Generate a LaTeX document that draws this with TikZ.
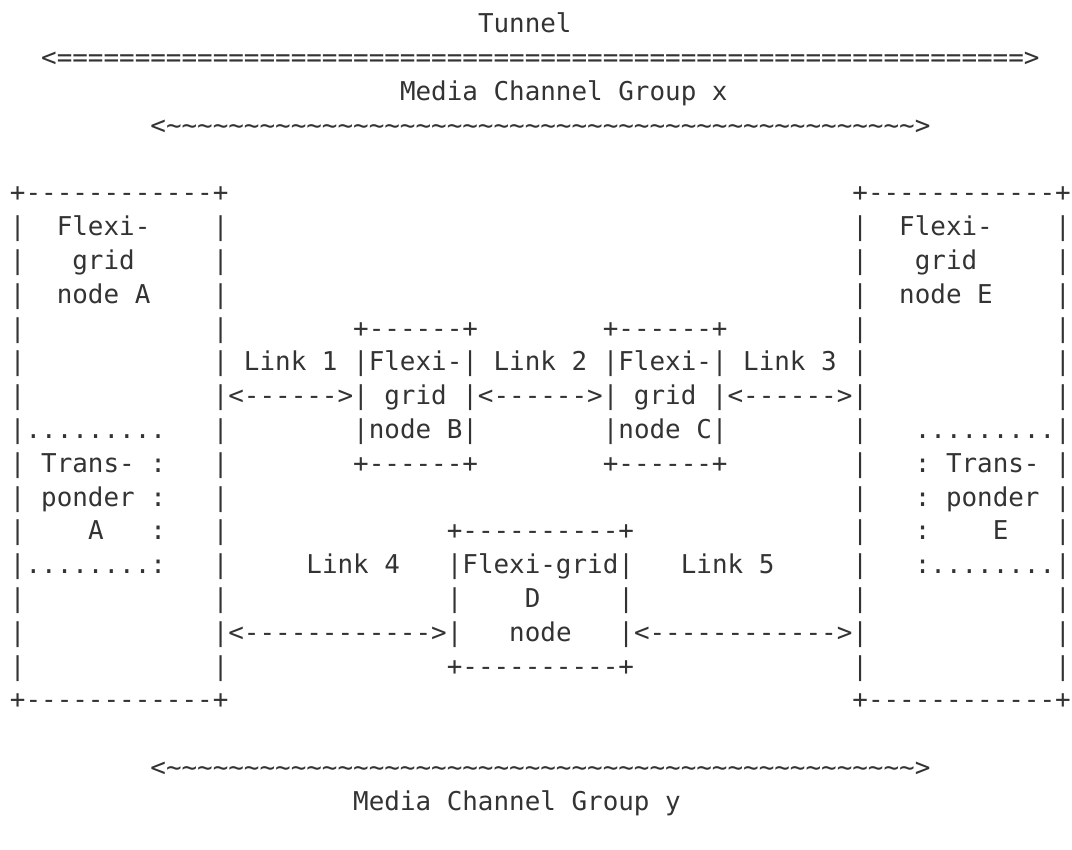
\documentclass[tikz,border=0pt]{standalone}
\usepackage{fontspec}
\setmonofont{DejaVu Sans Mono}
\definecolor{ink}{HTML}{333333}
\ExplSyntaxOn
\cs_new:Npn \asciirep #1#2 { \prg_replicate:nn {#1} {#2} }
\ExplSyntaxOff
\newcommand\asciiseg[4]{\node[txt] (#1) at (#2,#3) {#4};}
\newcommand\tld{\textasciitilde}
\begin{document}
\begin{tikzpicture}[x=11.7pt,y=-25.35pt,
  txt/.style={anchor=base west, inner sep=0pt, outer sep=0pt,
    font=\ttfamily\fontsize{19.434pt}{19.434pt}\selectfont, text=ink}]
\path[use as bounding box] (-0.641,-0.976) rectangle (68.077,24.172);
% header
\asciiseg{tunnel}{30}{0}{Tunnel}
\asciiseg{tunarrow}{2}{1}{<\asciirep{62}{=}>}
\asciiseg{mcgx}{25}{2}{Media Channel Group x}
\asciiseg{mcgxarrow}{9}{3}{<\asciirep{48}{\tld}>}
% row 5
\asciiseg{atop}{0}{5}{+\asciirep{12}{-}+}
\asciiseg{etop}{54}{5}{+\asciirep{12}{-}+}
% row 6
\asciiseg{a6l}{0}{6}{|}\asciiseg{a6t}{3}{6}{Flexi-}\asciiseg{a6r}{13}{6}{|}
\asciiseg{e6l}{54}{6}{|}\asciiseg{e6t}{57}{6}{Flexi-}\asciiseg{e6r}{67}{6}{|}
% row 7
\asciiseg{a7l}{0}{7}{|}\asciiseg{a7t}{4}{7}{grid}\asciiseg{a7r}{13}{7}{|}
\asciiseg{e7l}{54}{7}{|}\asciiseg{e7t}{58}{7}{grid}\asciiseg{e7r}{67}{7}{|}
% row 8
\asciiseg{a8l}{0}{8}{|}\asciiseg{a8t}{3}{8}{node A}\asciiseg{a8r}{13}{8}{|}
\asciiseg{e8l}{54}{8}{|}\asciiseg{e8t}{57}{8}{node E}\asciiseg{e8r}{67}{8}{|}
% row 9
\asciiseg{a9l}{0}{9}{|}\asciiseg{a9r}{13}{9}{|}
\asciiseg{btop}{22}{9}{+\asciirep{6}{-}+}
\asciiseg{ctop}{38}{9}{+\asciirep{6}{-}+}
\asciiseg{e9l}{54}{9}{|}\asciiseg{e9r}{67}{9}{|}
% row 10
\asciiseg{a10l}{0}{10}{|}
\asciiseg{links}{13}{10}{| Link 1 |Flexi-| Link 2 |Flexi-| Link 3 |}
\asciiseg{e10r}{67}{10}{|}
% row 11
\asciiseg{a11l}{0}{11}{|}
\asciiseg{arrows}{13}{11}{|<\asciirep{6}{-}>| grid |<\asciirep{6}{-}>| grid |<\asciirep{6}{-}>|}
\asciiseg{e11r}{67}{11}{|}
% row 12
\asciiseg{a12}{0}{12}{|.........}\asciiseg{a12r}{13}{12}{|}
\asciiseg{nodeb}{22}{12}{|node B|}
\asciiseg{nodec}{38}{12}{|node C|}
\asciiseg{e12l}{54}{12}{|}\asciiseg{e12}{58}{12}{.........|}
% row 13
\asciiseg{a13}{0}{13}{| Trans- :}\asciiseg{a13r}{13}{13}{|}
\asciiseg{bbot}{22}{13}{+\asciirep{6}{-}+}
\asciiseg{cbot}{38}{13}{+\asciirep{6}{-}+}
\asciiseg{e13l}{54}{13}{|}\asciiseg{e13}{58}{13}{: Trans- |}
% row 14
\asciiseg{a14}{0}{14}{| ponder :}\asciiseg{a14r}{13}{14}{|}
\asciiseg{e14l}{54}{14}{|}\asciiseg{e14}{58}{14}{: ponder |}
% row 15
\asciiseg{a15l}{0}{15}{|}\asciiseg{a15t}{5}{15}{A}\asciiseg{a15c}{9}{15}{:}\asciiseg{a15r}{13}{15}{|}
\asciiseg{dtop}{28}{15}{+\asciirep{10}{-}+}
\asciiseg{e15l}{54}{15}{|}\asciiseg{e15c}{58}{15}{:}\asciiseg{e15t}{63}{15}{E}\asciiseg{e15r}{67}{15}{|}
% row 16
\asciiseg{a16}{0}{16}{|........:}\asciiseg{a16r}{13}{16}{|}
\asciiseg{link4}{19}{16}{Link 4}
\asciiseg{dname}{28}{16}{|Flexi-grid|}
\asciiseg{link5}{43}{16}{Link 5}
\asciiseg{e16l}{54}{16}{|}\asciiseg{e16}{58}{16}{:........|}
% row 17
\asciiseg{a17l}{0}{17}{|}\asciiseg{a17r}{13}{17}{|}
\asciiseg{d17l}{28}{17}{|}\asciiseg{d17t}{33}{17}{D}\asciiseg{d17r}{39}{17}{|}
\asciiseg{e17l}{54}{17}{|}\asciiseg{e17r}{67}{17}{|}
% row 18
\asciiseg{a18l}{0}{18}{|}
\asciiseg{link4arrow}{13}{18}{|<\asciirep{12}{-}>|}
\asciiseg{d18t}{32}{18}{node}
\asciiseg{link5arrow}{39}{18}{|<\asciirep{12}{-}>|}
\asciiseg{e18r}{67}{18}{|}
% row 19
\asciiseg{a19l}{0}{19}{|}\asciiseg{a19r}{13}{19}{|}
\asciiseg{dbot}{28}{19}{+\asciirep{10}{-}+}
\asciiseg{e19l}{54}{19}{|}\asciiseg{e19r}{67}{19}{|}
% row 20
\asciiseg{abot}{0}{20}{+\asciirep{12}{-}+}
\asciiseg{ebot}{54}{20}{+\asciirep{12}{-}+}
% footer
\asciiseg{mcgyarrow}{9}{22}{<\asciirep{48}{\tld}>}
\asciiseg{mcgy}{22}{23}{Media Channel Group y}
\end{tikzpicture}
\end{document}
